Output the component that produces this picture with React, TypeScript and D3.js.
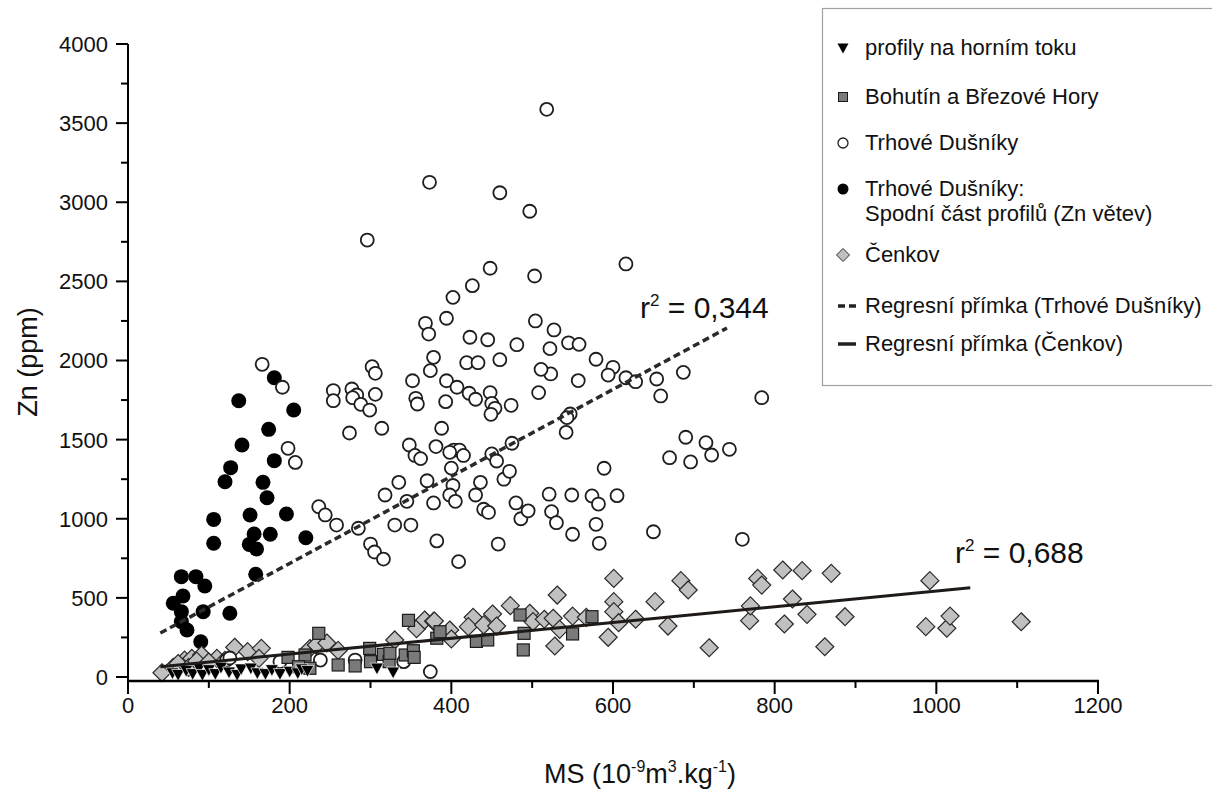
import React from 'react';
import * as d3 from 'd3';

// MS (10^-9 m3/kg) vs Zn (ppm)
const HORNI_TOK: [number, number][] = [
  [55, 25], [62, 15], [72, 40], [80, 20], [88, 55], [92, 15], [100, 45], [108, 20], [115, 60], [125, 30],
  [135, 15], [140, 50], [152, 55], [160, 25], [170, 20], [178, 45], [188, 20], [200, 35], [210, 25], [215, 50],
  [222, 40], [308, 55], [328, 30],
];

const BOHUTIN: [number, number][] = [
  [198, 124], [219, 139], [225, 55], [211, 65], [236, 276], [260, 76], [281, 70], [299, 181], [300, 97], [316, 143],
  [323, 97], [324, 150], [343, 139], [347, 358], [353, 166], [354, 124], [382, 245], [386, 286], [431, 225], [445, 234],
  [485, 392], [490, 276], [489, 171], [550, 272], [574, 381],
];

const TRHOVE: [number, number][] = [
  [373, 3126], [460, 3060], [497, 2943], [518, 3587], [296, 2761], [616, 2610], [448, 2583], [503, 2534], [426, 2473], [402, 2399],
  [394, 2267], [368, 2235], [372, 2167], [504, 2250], [527, 2193], [423, 2147], [445, 2131], [481, 2100], [522, 2075], [545, 2112],
  [558, 2102], [579, 2008], [600, 1957], [594, 1908], [616, 1891], [628, 1866], [557, 1873], [523, 1915], [511, 1944], [654, 1883],
  [687, 1925], [659, 1776], [784, 1765], [547, 1662], [543, 1639], [542, 1546], [690, 1515], [715, 1481], [722, 1403], [744, 1439],
  [670, 1386], [696, 1359], [589, 1319], [521, 1155], [549, 1150], [574, 1144], [582, 1093], [605, 1146], [524, 1045], [530, 975],
  [550, 902], [579, 965], [583, 845], [650, 918], [760, 870], [378, 2020], [374, 1936], [419, 1986], [433, 1986], [460, 2005],
  [302, 1961], [306, 1919], [191, 1831], [352, 1872], [394, 1872], [407, 1831], [422, 1793], [430, 1755], [448, 1797], [254, 1810],
  [254, 1746], [277, 1820], [283, 1782], [278, 1765], [288, 1723], [299, 1687], [306, 1786], [356, 1761], [358, 1725], [393, 1740],
  [450, 1729], [454, 1698], [449, 1660], [474, 1717], [508, 1797], [274, 1542], [314, 1572], [388, 1572], [348, 1466], [381, 1456],
  [403, 1434], [410, 1434], [475, 1477], [198, 1445], [166, 1976], [207, 1356], [236, 1076], [244, 1024],
  [258, 960], [285, 940], [300, 840], [305, 790], [316, 745], [318, 1150], [330, 960], [335, 1230], [345, 1110], [350, 960],
  [355, 1400], [362, 1380], [370, 1240], [378, 1100], [382, 860], [398, 1420], [400, 1320], [402, 1210], [398, 1150], [405, 1110],
  [409, 729], [415, 1400], [430, 1150], [436, 1230], [440, 1060], [446, 1040], [450, 1410], [456, 1365], [458, 840], [465, 1250],
  [472, 1300], [480, 1100], [486, 1000], [495, 1050],
  [122, 107], [126, 120], [188, 97], [238, 107], [281, 107], [341, 97], [374, 34],
];

const TRHOVE_SPODNI: [number, number][] = [
  [181, 1891], [137, 1746], [205, 1687], [174, 1565], [141, 1466], [181, 1367], [127, 1323], [120, 1234], [167, 1230], [172, 1133],
  [151, 1024], [196, 1030], [106, 996], [156, 904], [176, 902], [220, 880], [106, 845], [150, 838], [159, 809], [158, 649],
  [66, 634], [84, 634], [95, 575], [68, 512], [56, 466], [66, 413], [66, 350], [73, 297], [90, 223], [93, 413], [126, 403],
];

const CENKOV: [number, number][] = [
  [42, 27], [56, 61], [70, 107], [79, 118], [91, 139], [110, 118], [62, 85], [75, 60], [85, 100], [100, 95],
  [120, 105], [132, 188], [148, 160], [165, 181], [162, 118], [225, 180], [233, 202], [246, 215], [260, 168], [330, 234],
  [357, 305], [367, 360], [378, 352], [398, 297], [400, 240], [427, 377], [421, 318], [379, 354], [440, 329], [451, 398],
  [456, 322], [473, 451], [497, 403], [501, 350], [515, 365], [526, 371], [528, 196], [534, 301], [531, 518], [550, 385],
  [567, 377], [594, 251], [601, 623], [601, 476], [601, 413], [607, 343], [628, 365], [652, 476], [668, 322], [684, 609],
  [693, 550], [719, 185], [769, 356], [770, 449], [779, 623], [784, 581], [810, 676], [812, 335], [822, 493], [834, 672],
  [840, 396], [862, 191], [870, 655], [887, 381], [987, 318], [992, 609], [1013, 308], [1017, 385], [1105, 349],
];

// regression lines: [start, end]
const REG_TRHOVE: [number, number][] = [[40, 278], [741, 2205]];
const REG_CENKOV: [number, number][] = [[40, 65], [1042, 564]];

const X_TICKS = [0, 200, 400, 600, 800, 1000, 1200];
const Y_TICKS = [0, 500, 1000, 1500, 2000, 2500, 3000, 3500, 4000];

const FONT = '"Liberation Sans", Arial, sans-serif';

export default function App() {
  const width = 1212;
  const height = 791;
  const x = d3.scaleLinear().domain([0, 1200]).range([128, 1098]);
  const y = d3.scaleLinear().domain([0, 4000]).range([677, 44]);
  const axisY = y(-25);

  const xMinor = d3.range(100, 1200, 200);
  const yMinor = d3.range(250, 4000, 500);

  const line = d3.line<[number, number]>().x(d => x(d[0])).y(d => y(d[1]));

  const tri = (cx: number, cy: number, s: number) =>
    `M${cx - s},${cy - s * 0.8}L${cx + s},${cy - s * 0.8}L${cx},${cy + s}Z`;
  const dia = (cx: number, cy: number, s: number) =>
    `M${cx},${cy - s}L${cx + s},${cy}L${cx},${cy + s}L${cx - s},${cy}Z`;

  const legendX = 843;
  const textX = 865;

  return (
    <svg width={width} height={height} style={{ position: 'absolute', left: 0, top: 0, background: '#fff' }}
      fontFamily={FONT}>
      <rect width={width} height={height} fill="#fff" />

      {/* points */}
      {TRHOVE_SPODNI.map((d, i) => (
        <circle key={'b' + i} cx={x(d[0])} cy={y(d[1])} r={7.5} fill="#000" />
      ))}
      {CENKOV.map((d, i) => (
        <path key={'c' + i} d={dia(x(d[0]), y(d[1]), 9)} fill="#c0c0c0" stroke="#2a2a2a" strokeWidth={1.2} />
      ))}
      {TRHOVE.map((d, i) => (
        <circle key={'o' + i} cx={x(d[0])} cy={y(d[1])} r={6.5} fill="#fff" stroke="#1e1e1e" strokeWidth={1.8} />
      ))}
      {BOHUTIN.map((d, i) => (
        <rect key={'s' + i} x={x(d[0]) - 6} y={y(d[1]) - 6} width={12} height={12}
          fill="#7a7a7a" stroke="#1a1a1a" strokeWidth={1.2} />
      ))}
      {HORNI_TOK.map((d, i) => (
        <path key={'t' + i} d={tri(x(d[0]), y(d[1]), 6.5)} fill="#000" stroke="#fff" strokeWidth={0.7} />
      ))}

      {/* regression lines */}
      <path d={line(REG_TRHOVE) || ''} fill="none" stroke="#2a2a2a" strokeWidth={3.5} strokeDasharray="7,4" />
      <path d={line(REG_CENKOV) || ''} fill="none" stroke="#1e1a18" strokeWidth={3} />

      {/* axes */}
      <line x1={x(0)} x2={x(0)} y1={y(4000)} y2={axisY + 1} stroke="#000" strokeWidth={2} />
      <line x1={x(0) - 1} x2={x(1200) + 1} y1={axisY} y2={axisY} stroke="#000" strokeWidth={2.5} />
      {Y_TICKS.map(t => (
        <g key={'yt' + t}>
          <line x1={x(0) - 12} x2={x(0)} y1={y(t)} y2={y(t)} stroke="#000" strokeWidth={2} />
          <text x={x(0) - 20} y={y(t)} dy="0.36em" textAnchor="end" fontSize={22} fill="#111">{t}</text>
        </g>
      ))}
      {yMinor.map(t => (
        <line key={'ym' + t} x1={x(0) - 7} x2={x(0)} y1={y(t)} y2={y(t)} stroke="#000" strokeWidth={2} />
      ))}
      {X_TICKS.map(t => (
        <g key={'xt' + t}>
          <line x1={x(t)} x2={x(t)} y1={axisY} y2={axisY + 13} stroke="#000" strokeWidth={2} />
          <text x={x(t)} y={axisY + 32} textAnchor="middle" fontSize={22} fill="#111">{t}</text>
        </g>
      ))}
      {xMinor.map(t => (
        <line key={'xm' + t} x1={x(t)} x2={x(t)} y1={axisY} y2={axisY + 7} stroke="#000" strokeWidth={2} />
      ))}

      {/* axis titles */}
      <text x={640} y={783} textAnchor="middle" fontSize={27} fill="#111">
        MS (10<tspan dy={-11} fontSize={16}>-9</tspan><tspan dy={11}>m</tspan>
        <tspan dy={-11} fontSize={16}>3</tspan><tspan dy={11}>.kg</tspan>
        <tspan dy={-11} fontSize={16}>-1</tspan><tspan dy={11}>)</tspan>
      </text>
      <text transform={`translate(37,${362}) rotate(-90)`} textAnchor="middle" fontSize={27} fill="#111">Zn (ppm)</text>

      {/* r2 labels */}
      <text x={640} y={318} fontSize={30} fill="#111">
        r<tspan dy={-12} fontSize={17}>2</tspan><tspan dy={12}> = 0,344</tspan>
      </text>
      <text x={955} y={563} fontSize={30} fill="#111">
        r<tspan dy={-12} fontSize={17}>2</tspan><tspan dy={12}> = 0,688</tspan>
      </text>

      {/* legend */}
      <rect x={822.5} y={8.5} width={400} height={377} fill="#fff" stroke="#a0a0a0" strokeWidth={1.2} />
      <g fontSize={22} fill="#111">
        <path d={tri(legendX, 48, 5.5)} fill="#000" />
        <text x={textX} y={55}>profily na horním toku</text>

        <rect x={legendX - 4.5} y={97 - 4.5} width={9} height={9} fill="#7a7a7a" stroke="#1a1a1a" strokeWidth={1} />
        <text x={textX} y={104}>Bohutín a Březové Hory</text>

        <circle cx={legendX} cy={143} r={5} fill="#fff" stroke="#1e1e1e" strokeWidth={1.3} />
        <text x={textX} y={150}>Trhové Dušníky</text>

        <circle cx={legendX} cy={189} r={5.5} fill="#000" />
        <text x={textX} y={196}>Trhové Dušníky:</text>
        <text x={textX} y={221}>Spodní část profilů (Zn větev)</text>

        <path d={dia(legendX, 255, 6.5)} fill="#c0c0c0" stroke="#2a2a2a" strokeWidth={1} />
        <text x={textX} y={262}>Čenkov</text>

        <line x1={legendX - 5} x2={legendX + 13} y1={306} y2={306} stroke="#222" strokeWidth={3.5} strokeDasharray="7,4" />
        <text x={textX} y={313}>Regresní přímka (Trhové Dušníky)</text>

        <line x1={legendX - 5} x2={legendX + 13} y1={344} y2={344} stroke="#222" strokeWidth={3.5} />
        <text x={textX} y={351}>Regresní přímka (Čenkov)</text>
      </g>
    </svg>
  );
}
